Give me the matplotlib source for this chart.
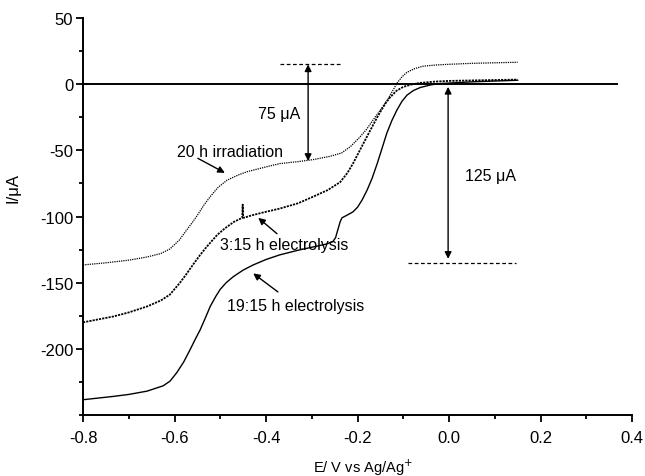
import matplotlib
matplotlib.use("Agg")
import matplotlib.pyplot as plt
from matplotlib.ticker import MultipleLocator

plt.rcParams['font.family'] = ['Liberation Sans', 'DejaVu Sans']

# 20 h irradiation (dotted)
e_irr = [-0.80, -0.75, -0.70, -0.66, -0.63, -0.61, -0.59, -0.573, -0.56, -0.55,
         -0.535, -0.522, -0.505, -0.485, -0.46, -0.44, -0.40, -0.37, -0.33, -0.297,
         -0.26, -0.235, -0.215, -0.195, -0.18, -0.166, -0.15, -0.135, -0.124, -0.114,
         -0.103, -0.092, -0.075, -0.057, -0.03, -0.004, 0.05, 0.10, 0.15]
i_irr = [-136.6, -135, -133, -130.6, -128, -124.5, -118, -110, -104, -99,
         -91, -85, -78, -72.5, -68.5, -66, -62.5, -60, -58.5, -57,
         -54.5, -52, -47, -40, -34, -27, -19.5, -12, -5.5, 0.7,
         5.5, 9, 11.8, 13.6, 14.5, 15, 15.8, 16.2, 16.6]

# 3:15 h electrolysis (noisy)
e_315 = [-0.80, -0.77, -0.734, -0.70, -0.66, -0.63, -0.61, -0.588, -0.575, -0.56,
         -0.545, -0.53, -0.507, -0.49, -0.47, -0.452, -0.451, -0.450, -0.449, -0.43,
         -0.407, -0.37, -0.33, -0.297, -0.265, -0.238, -0.222, -0.21, -0.195, -0.18,
         -0.157, -0.14, -0.129, -0.115, -0.10, -0.08, -0.063, -0.03, 0.0, 0.07, 0.15]
i_315 = [-180, -178, -175.6, -172.5, -168, -163.5, -159, -150, -144, -136.6,
         -129.5, -123, -114, -109, -104, -101, -91, -100, -101, -99,
         -97, -94, -90, -85, -80, -74, -67, -60, -50, -40,
         -25, -15, -10, -5, -2, 0, 1, 2, 2.5, 3, 3.5]

# 19:15 h electrolysis (solid)
e_1915 = [-0.80, -0.734, -0.70, -0.66, -0.625, -0.61, -0.595, -0.58, -0.566, -0.555,
          -0.544, -0.533, -0.522, -0.51, -0.50, -0.487, -0.472, -0.45, -0.428, -0.40,
          -0.37, -0.33, -0.297, -0.27, -0.254, -0.248, -0.243, -0.238, -0.234, -0.223,
          -0.21, -0.20, -0.19, -0.179, -0.168, -0.157, -0.146, -0.136, -0.125, -0.114,
          -0.103, -0.092, -0.078, -0.063, -0.04, -0.02, 0.05, 0.15]
i_1915 = [-238.5, -236, -234.5, -232, -228, -224.5, -218, -210, -200.7, -193,
          -185.7, -177, -168, -160.5, -155, -150, -145.6, -140.5, -136.6, -132.5,
          -129, -125.5, -123, -121, -119, -116, -110, -104, -101, -99,
          -96.5, -93, -87.5, -80, -71, -60, -48, -37, -27.5, -19.6,
          -13, -8.3, -4.8, -2.5, -0.5, 0.5, 1.8, 3]

xticks = [-0.8, -0.6, -0.4, -0.2, 0.0, 0.2, 0.4]
xticklabels = ['-0.8', '-0.6', '-0.4', '-0.2', '0.0', '0.2', '0.4']
yticks = [-200, -150, -100, -50, 0, 50]

fig = plt.figure(figsize=(6.45, 4.77), dpi=100)
ax = fig.add_axes([0.1287, 0.128, 0.8512, 0.832])

ax.plot([-0.8, 0.367], [0, 0], color='black', lw=1.4)
ax.plot(e_irr, i_irr, color='black', lw=0.9, linestyle=(0, (1, 0.8)))
ax.plot(e_315, i_315, color='black', lw=1.3, linestyle=(0, (1.2, 0.6)))
ax.plot(e_1915, i_1915, color='black', lw=1.0)

# 75 uA marker
ax.plot([-0.37, -0.234], [15, 15], color='black', lw=0.9, linestyle=(0, (3, 2)))
ax.annotate('', xy=(-0.308, 15), xytext=(-0.308, -58),
            arrowprops=dict(arrowstyle='<|-|>', color='black', lw=1.0,
                            mutation_scale=10, shrinkA=0, shrinkB=0))
ax.text(-0.326, -22, '75 μA', ha='right', va='center', fontsize=11.5)

# 125 uA marker
ax.plot([-0.09, 0.146], [-135, -135], color='black', lw=0.9, linestyle=(0, (3, 2)))
ax.annotate('', xy=(-0.002, -2), xytext=(-0.002, -132),
            arrowprops=dict(arrowstyle='<|-|>', color='black', lw=1.0,
                            mutation_scale=10, shrinkA=0, shrinkB=0))
ax.text(0.035, -69, '125 μA', ha='left', va='center', fontsize=11.5)

# curve labels
arrow = dict(arrowstyle='-|>', color='black', lw=1.0, mutation_scale=10, shrinkA=0, shrinkB=0)
ax.text(-0.594, -51, '20 h irradiation', ha='left', va='center', fontsize=11.5)
ax.annotate('', xy=(-0.49, -67), xytext=(-0.549, -56), arrowprops=arrow)
ax.text(-0.500, -121.5, '3:15 h electrolysis', ha='left', va='center', fontsize=11.5)
ax.annotate('', xy=(-0.417, -101), xytext=(-0.376, -113), arrowprops=arrow)
ax.text(-0.485, -167.5, '19:15 h electrolysis', ha='left', va='center', fontsize=11.5)
ax.annotate('', xy=(-0.428, -143), xytext=(-0.374, -157), arrowprops=arrow)

ax.set_xlim(-0.8, 0.4)
ax.set_ylim(-250, 50)
ax.spines['top'].set_visible(False)
ax.spines['right'].set_visible(False)
ax.spines['left'].set_linewidth(1.4)
ax.spines['bottom'].set_linewidth(1.4)
ax.xaxis.set_minor_locator(MultipleLocator(0.1))
ax.yaxis.set_minor_locator(MultipleLocator(25))
ax.set_xticks(xticks)
ax.set_xticklabels(xticklabels)
ax.set_yticks(yticks)
ax.set_yticklabels([str(v) for v in yticks])
ax.tick_params(which='major', direction='out', length=5, width=1.3, labelsize=12)
ax.tick_params(axis='x', which='major', pad=6)
ax.tick_params(axis='y', which='major', pad=2)
ax.tick_params(which='minor', direction='out', length=3, width=1.3)
ax.set_xlabel('E/ V vs Ag/Ag$^{+}$', fontsize=10.5)
ax.set_ylabel('I/μA', fontsize=12)
ax.xaxis.set_label_coords(0.51, -0.105)
ax.yaxis.set_label_coords(-0.113, 0.575)

fig.savefig('out.png', dpi=100)
